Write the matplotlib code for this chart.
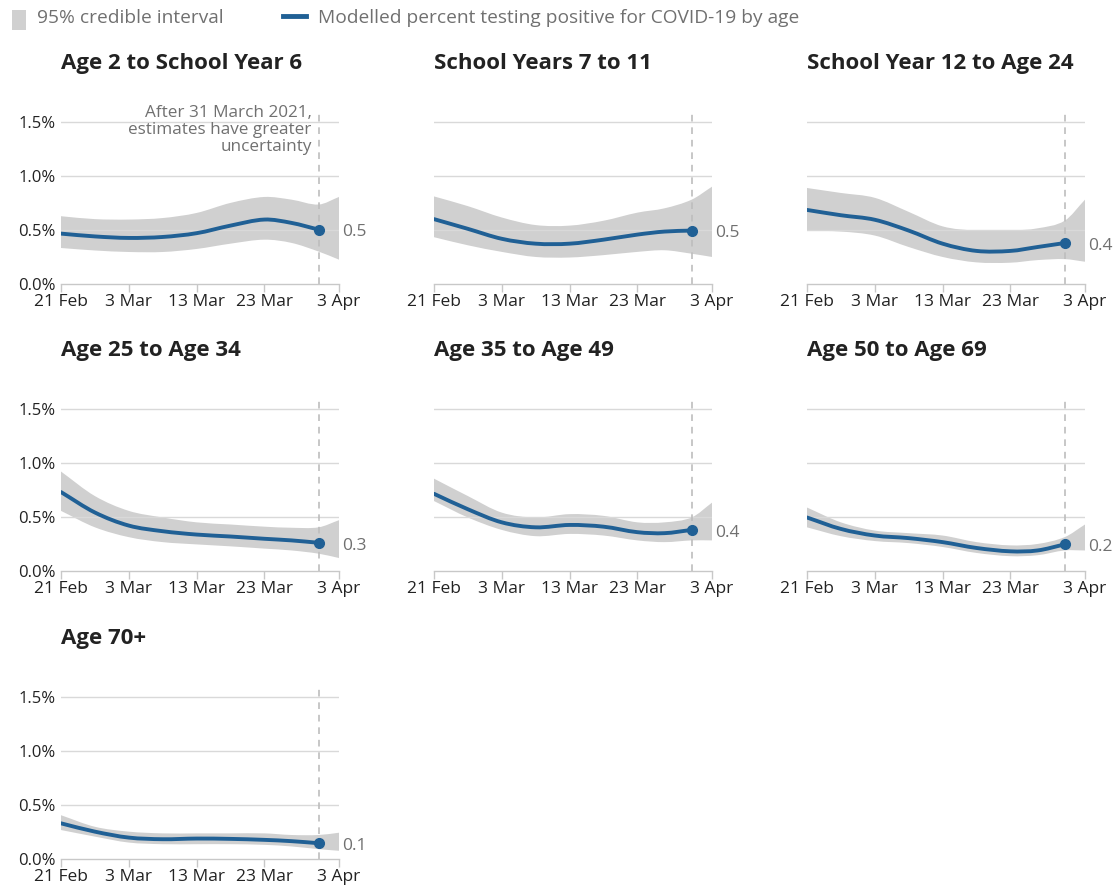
import matplotlib
matplotlib.use("Agg")
import matplotlib.pyplot as plt
import matplotlib.dates as mdates
import matplotlib.transforms as mtransforms
from matplotlib.path import Path
from matplotlib.patches import PathPatch
import numpy as np

plt.rcParams['font.family'] = ['Open Sans', 'DejaVu Sans']

# ---------------- data ----------------
band_dates = ["2021-02-21", "2021-02-26", "2021-03-03", "2021-03-08", "2021-03-13",
              "2021-03-18", "2021-03-23", "2021-03-27", "2021-03-31", "2021-04-03"]
line_dates = band_dates[:-1]

titles = ["Age 2 to School Year 6", "School Years 7 to 11", "School Year 12 to Age 24",
          "Age 25 to Age 34", "Age 35 to Age 49", "Age 50 to Age 69", "Age 70+"]

est_y2_sy6 = [0.466, 0.44, 0.426, 0.435, 0.47, 0.54, 0.596, 0.565, 0.503]
up_y2_sy6 = [0.627, 0.60, 0.596, 0.61, 0.657, 0.75, 0.805, 0.78, 0.735, 0.805]
lo_y2_sy6 = [0.333, 0.31, 0.296, 0.296, 0.324, 0.373, 0.41, 0.38, 0.30, 0.225]

est_sy7_11 = [0.60, 0.51, 0.418, 0.373, 0.373, 0.41, 0.457, 0.485, 0.494]
up_sy7_11 = [0.81, 0.72, 0.615, 0.545, 0.54, 0.585, 0.66, 0.70, 0.78, 0.90]
lo_sy7_11 = [0.433, 0.358, 0.297, 0.25, 0.245, 0.267, 0.297, 0.312, 0.28, 0.25]

est_sy12_24 = [0.685, 0.636, 0.594, 0.494, 0.373, 0.306, 0.306, 0.342, 0.379]
up_sy12_24 = [0.888, 0.842, 0.797, 0.667, 0.533, 0.494, 0.494, 0.515, 0.585, 0.78]
lo_sy12_24 = [0.494, 0.485, 0.448, 0.342, 0.25, 0.20, 0.197, 0.221, 0.23, 0.206]

est_25_34 = [0.73, 0.541, 0.42, 0.368, 0.337, 0.319, 0.298, 0.283, 0.261]
up_25_34 = [0.92, 0.693, 0.556, 0.495, 0.45, 0.43, 0.41, 0.40, 0.404, 0.47]
lo_25_34 = [0.556, 0.404, 0.313, 0.267, 0.246, 0.228, 0.207, 0.19, 0.16, 0.12]

est_35_49 = [0.714, 0.571, 0.45, 0.404, 0.426, 0.41, 0.359, 0.35, 0.38]
up_35_49 = [0.854, 0.693, 0.54, 0.495, 0.526, 0.51, 0.45, 0.45, 0.495, 0.632]
lo_35_49 = [0.647, 0.495, 0.38, 0.322, 0.343, 0.328, 0.283, 0.267, 0.283, 0.283]

est_50_69 = [0.495, 0.389, 0.328, 0.304, 0.267, 0.213, 0.182, 0.19, 0.246]
up_50_69 = [0.587, 0.45, 0.374, 0.35, 0.328, 0.267, 0.237, 0.25, 0.313, 0.43]
lo_50_69 = [0.404, 0.322, 0.277, 0.258, 0.222, 0.167, 0.137, 0.146, 0.19, 0.19]

est_70 = [0.33, 0.253, 0.198, 0.183, 0.189, 0.186, 0.177, 0.165, 0.146]
up_70 = [0.405, 0.298, 0.253, 0.237, 0.237, 0.237, 0.237, 0.222, 0.222, 0.243]
lo_70 = [0.268, 0.207, 0.152, 0.137, 0.137, 0.137, 0.131, 0.116, 0.091, 0.076]

end_labels = ["0.5", "0.5", "0.4", "0.3", "0.4", "0.2", "0.1"]

x_ticks = ["2021-02-21", "2021-03-03", "2021-03-13", "2021-03-23", "2021-04-03"]
x_ticklabels = ["21 Feb", "3 Mar", "13 Mar", "23 Mar", "3 Apr"]
y_ticks = [0.0, 0.5, 1.0, 1.5]
y_ticklabels = ["0.0%", "0.5%", "1.0%", "1.5%"]
cutoff_date = "2021-03-31"

series = [
    (est_y2_sy6, up_y2_sy6, lo_y2_sy6),
    (est_sy7_11, up_sy7_11, lo_sy7_11),
    (est_sy12_24, up_sy12_24, lo_sy12_24),
    (est_25_34, up_25_34, lo_25_34),
    (est_35_49, up_35_49, lo_35_49),
    (est_50_69, up_50_69, lo_50_69),
    (est_70, up_70, lo_70),
]

# ---------------- style ----------------
BLUE = "#206095"
BAND = "#d0d0d0"
GRID = "#d9d9d9"
AXIS = "#c8c8c8"
GREY_TXT = "#707070"
TXT = "#222222"
FS = 12.5

W, H = 1115, 891
fig = plt.figure(figsize=(W / 100, H / 100), dpi=100)

col_left = [61, 434, 807]
row_bottom = [284, 571, 859]
ax_w = 278
ax_h = 173


def hermite_segments(x, y):
    """Smooth (cubic Hermite) path vertices through the given points."""
    x = np.asarray(x, float)
    y = np.asarray(y, float)
    n = len(x)
    m = np.zeros(n)
    m[0] = (y[1] - y[0]) / (x[1] - x[0])
    m[-1] = (y[-1] - y[-2]) / (x[-1] - x[-2])
    for i in range(1, n - 1):
        m[i] = (y[i + 1] - y[i - 1]) / (x[i + 1] - x[i - 1])
    verts = [(x[0], y[0])]
    codes = [Path.MOVETO]
    for i in range(n - 1):
        h = x[i + 1] - x[i]
        verts += [(x[i] + h / 3, y[i] + m[i] * h / 3),
                  (x[i + 1] - h / 3, y[i + 1] - m[i + 1] * h / 3),
                  (x[i + 1], y[i + 1])]
        codes += [Path.CURVE4] * 3
    return verts, codes


bd = mdates.date2num(np.array(band_dates, dtype="datetime64[D]"))
ld = mdates.date2num(np.array(line_dates, dtype="datetime64[D]"))
xt = mdates.date2num(np.array(x_ticks, dtype="datetime64[D]"))
cut = mdates.date2num(np.datetime64(cutoff_date))

for i, (title, (est, up, lo), lab) in enumerate(zip(titles, series, end_labels)):
    r, c = divmod(i, 3)
    left = col_left[c] / W
    bottom = 1 - row_bottom[r] / H
    ax = fig.add_axes([left, bottom, ax_w / W, ax_h / H])

    # credible interval band (smooth)
    uv, uc = hermite_segments(bd, up)
    lv, lc = hermite_segments(bd[::-1], lo[::-1])
    verts = uv + [lv[0]] + lv[1:] + [uv[0]]
    codes = uc + [Path.LINETO] + lc[1:] + [Path.CLOSEPOLY]
    ax.add_patch(PathPatch(Path(verts, codes), facecolor=BAND, lw=0, zorder=1))

    for yv in y_ticks[1:]:
        ax.axhline(yv, color=GRID, lw=1.0, zorder=1.5)
    ax.axvline(cut, color="#bdbdbd", lw=1.2, ls=(0, (4, 3.5)), zorder=1.6)

    # modelled estimate (smooth)
    ev, ec = hermite_segments(ld, est)
    ax.add_patch(PathPatch(Path(ev, ec), facecolor="none", edgecolor=BLUE, lw=2.8,
                           capstyle="round", zorder=3))
    ax.plot(ld[-1:], est[-1:], "o", color=BLUE, ms=7, zorder=4)
    ax.annotate(lab, (ld[-1], est[-1]), xytext=(17, -2), textcoords="offset points",
                fontsize=FS, color=GREY_TXT, va="center", ha="left",
                annotation_clip=False)

    ax.set_xlim(bd[0], bd[-1])
    ax.set_ylim(0, 1.6)
    ax.set_xticks(xt)
    ax.set_xticklabels(x_ticklabels, fontsize=FS, color=TXT)
    ax.set_yticks(y_ticks)
    if c == 0:
        ax.set_yticklabels(y_ticklabels, fontsize=12, color=TXT)
        lbl0 = ax.get_yticklabels()[0]
        lbl0.set_transform(lbl0.get_transform() +
                           mtransforms.ScaledTranslation(0, 3 / 72, fig.dpi_scale_trans))
    else:
        ax.set_yticklabels([])
    ax.tick_params(axis="y", length=0, pad=4)
    ax.tick_params(axis="x", length=6, width=1, color=AXIS, pad=1.5)
    for s in ["top", "right", "left"]:
        ax.spines[s].set_visible(False)
    ax.spines["bottom"].set_color(AXIS)
    ax.spines["bottom"].set_linewidth(1)
    ax.set_facecolor("none")

    fig.text(left, 1 - (row_bottom[r] - ax_h - 42) / H, title, fontsize=16,
             fontweight="bold", color=TXT, ha="left", va="baseline")
    if i == 0:
        ax.annotate("After 31 March 2021,\nestimates have greater\nuncertainty",
                    (cut, 1.6), xytext=(-5, 4), textcoords="offset points",
                    ha="right", va="top", fontsize=12.3, color=GREY_TXT,
                    linespacing=1.08)

# legend
fig.patches.append(plt.Rectangle((12 / W, 1 - 30 / H), 14 / W, 20 / H,
                                 transform=fig.transFigure, color=BAND, lw=0))
fig.text(37 / W, 1 - 18 / H, "95% credible interval", fontsize=13.8, color=GREY_TXT,
         va="center", ha="left")
fig.add_artist(plt.Line2D([283 / W, 306 / W], [1 - 16 / H, 1 - 16 / H],
                          transform=fig.transFigure, color=BLUE, lw=3.5))
fig.text(318 / W, 1 - 18 / H, "Modelled percent testing positive for COVID-19 by age",
         fontsize=13.8, color=GREY_TXT, va="center", ha="left")

fig.savefig("out.png", dpi=100)
